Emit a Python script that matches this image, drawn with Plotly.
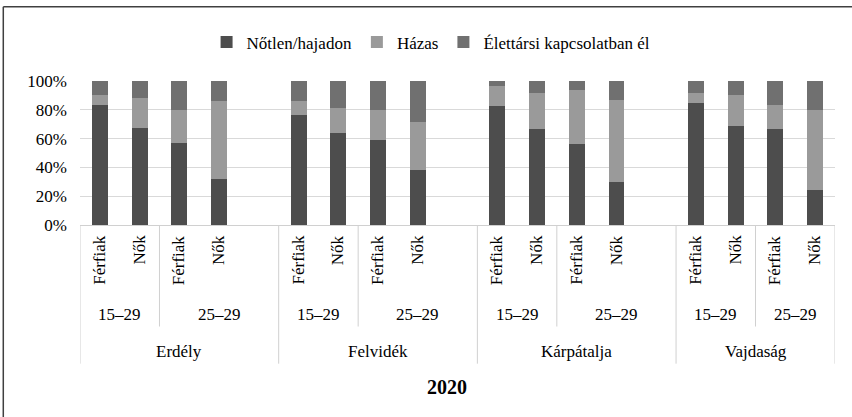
import plotly.graph_objects as go

# ---- data ----
regions = ["Erdély", "Felvidék", "Kárpátalja", "Vajdaság"]
ages = ["15–29", "25–29"]
genders = ["Férfiak", "Nők"]
year_label = "2020"

series_names = ["Nőtlen/hajadon", "Házas", "Élettársi kapcsolatban él"]
notlen = [83, 67.5, 57, 32, 76.5, 64, 59, 38.5, 82.3, 67, 56.5, 30, 85, 69, 67, 24.6]
hazas = [7, 21, 22.6, 54, 9.5, 17, 21, 33, 14, 25, 37, 57, 6.5, 21, 16, 55]
elettarsi = [10, 11.5, 20.4, 14, 14, 19, 20, 28.5, 3.7, 8, 6.5, 13, 8.5, 10, 17, 20.4]

colors = ["#4d4d4d", "#9a9a9a", "#707070"]
FONT = "Liberation Serif"

# ---- build slot positions (blank slot between regions) ----
xpos = []
gender_lab = []
age_groups = []     # (label, start_slot, end_slot)
region_groups = []  # (label, start_slot, end_slot)
slot = 0
for ri, reg in enumerate(regions):
    rstart = slot
    for ai, ag in enumerate(ages):
        astart = slot
        for g in genders:
            xpos.append(slot)
            gender_lab.append(g)
            slot += 1
        if ai == len(ages) - 1 and ri < len(regions) - 1:
            slot += 1  # blank slot
        age_groups.append((ag, astart, slot - 1))
    region_groups.append((reg, rstart, slot - 1))
nslots = slot

fig = go.Figure()
for name, vals, col in zip(series_names, [notlen, hazas, elettarsi], colors):
    fig.add_trace(go.Bar(x=xpos, y=vals, name=name, marker=dict(color=col, line=dict(width=0)),
                         width=0.4))

annotations = []
shapes = []
for x, g in zip(xpos, gender_lab):
    annotations.append(dict(x=x, y=-0.055, xref="x", yref="paper", text=g, textangle=-90,
                            showarrow=False, xanchor="center", yanchor="top",
                            font=dict(family=FONT, size=17, color="#000")))
for lab, s, e in age_groups:
    annotations.append(dict(x=(s + e) / 2, y=-0.62, xref="x", yref="paper", text=lab,
                            showarrow=False, xanchor="center", yanchor="middle",
                            font=dict(family=FONT, size=17, color="#000")))
for lab, s, e in region_groups:
    annotations.append(dict(x=(s + e) / 2, y=-0.88, xref="x", yref="paper", text=lab,
                            showarrow=False, xanchor="center", yanchor="middle",
                            font=dict(family=FONT, size=17, color="#000")))

region_starts = [s for _, s, _ in region_groups]
# short dividers between age groups inside a region
for lab, s, e in age_groups:
    if s not in region_starts:
        shapes.append(dict(type="line", xref="x", yref="paper", x0=s - 0.5, x1=s - 0.5,
                           y0=0, y1=-0.705, line=dict(color="#d0d0d0", width=1)))
# long dividers at region boundaries
bounds = region_starts + [nslots]
for b in bounds:
    shapes.append(dict(type="line", xref="x", yref="paper", x0=b - 0.5, x1=b - 0.5,
                       y0=0, y1=-0.963, line=dict(color="#d0d0d0", width=1)))

annotations.append(dict(x=0.4865, y=-1.123, xref="paper", yref="paper", text="<b>" + year_label + "</b>",
                        showarrow=False, xanchor="center", yanchor="middle",
                        font=dict(family=FONT, size=20, color="#000")))

# outer chart border (top and left visible)
shapes.append(dict(type="line", xref="paper", yref="paper", x0=-0.1016, x1=1.1, y0=1.516, y1=1.516,
                   line=dict(color="#404040", width=1.5)))
shapes.append(dict(type="line", xref="paper", yref="paper", x0=-0.1016, x1=-0.1016, y0=1.516, y1=-1.4,
                   line=dict(color="#404040", width=1.5)))

fig.update_layout(
    width=852, height=417,
    margin=dict(l=80, r=17, t=81, b=192),
    barmode="stack",
    plot_bgcolor="white", paper_bgcolor="white",
    font=dict(family=FONT, size=17, color="#000"),
    showlegend=True,
    legend=dict(orientation="h", x=0.465, xanchor="center", y=1.268, yanchor="middle",
                font=dict(family=FONT, size=17, color="#000"), traceorder="normal",
                itemwidth=30),
    annotations=annotations,
    shapes=shapes,
)
fig.update_xaxes(range=[-0.5, nslots - 0.5], showgrid=False, zeroline=False, showticklabels=False,
                 showline=True, linecolor="#d0d0d0", linewidth=1, ticks="")
fig.update_yaxes(range=[0, 100], dtick=20, ticksuffix="%", showgrid=True, gridcolor="#d9d9d9",
                 gridwidth=1, zeroline=False, showline=False, ticks="", ticklabelstandoff=12,
                 tickfont=dict(family=FONT, size=17, color="#000"))

fig.write_html("out.html", config={"displayModeBar": False},
               post_script="document.body.style.margin='0';")
